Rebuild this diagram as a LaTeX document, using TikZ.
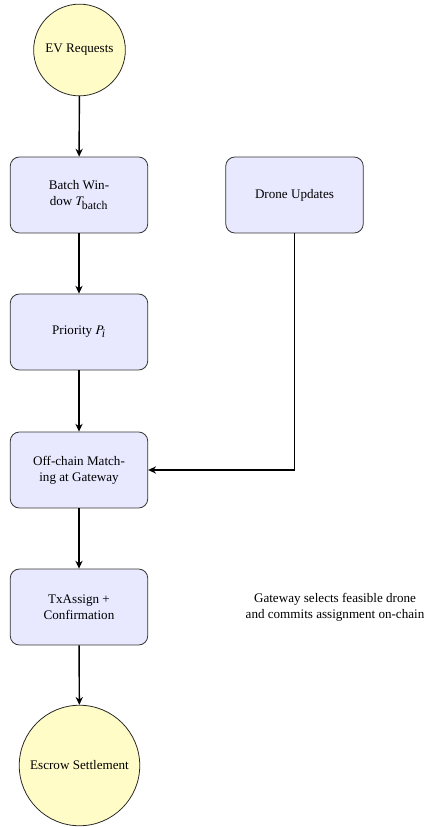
\documentclass[tikz,border=0pt]{standalone}
\usepackage{mathptmx}
\usepackage{fontspec}
\setmainfont{Liberation Serif}
\usetikzlibrary{arrows.meta}
\tikzset{
  procbox/.style={draw=black!80, line width=0.6pt, fill=blue!9, rounded corners=7pt,
    minimum width=105pt, minimum height=58pt, align=center, inner sep=3pt},
  termnode/.style={circle, draw=black!85, line width=0.6pt, fill=yellow!22,
    minimum size=70pt, align=center, inner sep=2pt},
  flow/.style={-{Stealth[length=6pt,width=5.5pt]}, line width=1.1pt},
  notetext/.style={align=center, inner sep=0pt}
}
\begin{document}
\begin{tikzpicture}[x=0.7634pt, y=-0.7634pt]
\useasboundingbox (0,0) rectangle (427,827);
\node[termnode] (ev) at (79.5,50) {EV Requests};
\node[procbox] (batch) at (79,195) {Batch Win-\\dow $T_{\mbox{\small batch}}$};
\node[procbox] (drone) at (294.5,195) {Drone Updates};
\node[procbox] (prio) at (79,332) {Priority $P_{\mbox{\small\itshape i}}$};
\node[procbox] (match) at (79,470) {Off-chain Match-\\ing at Gateway};
\node[procbox] (tx) at (79,607) {TxAssign +\\Confirmation};
\node[termnode, minimum size=92pt] (escrow) at (79.5,765.5) {Escrow Settlement};
\node[notetext] (note) at (335,607) {Gateway selects feasible drone\\and commits assignment on-chain};
\draw[flow] (ev) -- (batch);
\draw[flow] (batch) -- (prio);
\draw[flow] (prio) -- (match);
\draw[flow] (drone.south) |- (match.east);
\draw[flow] (match) -- (tx);
\draw[flow] (tx) -- (escrow);
\end{tikzpicture}
\end{document}
